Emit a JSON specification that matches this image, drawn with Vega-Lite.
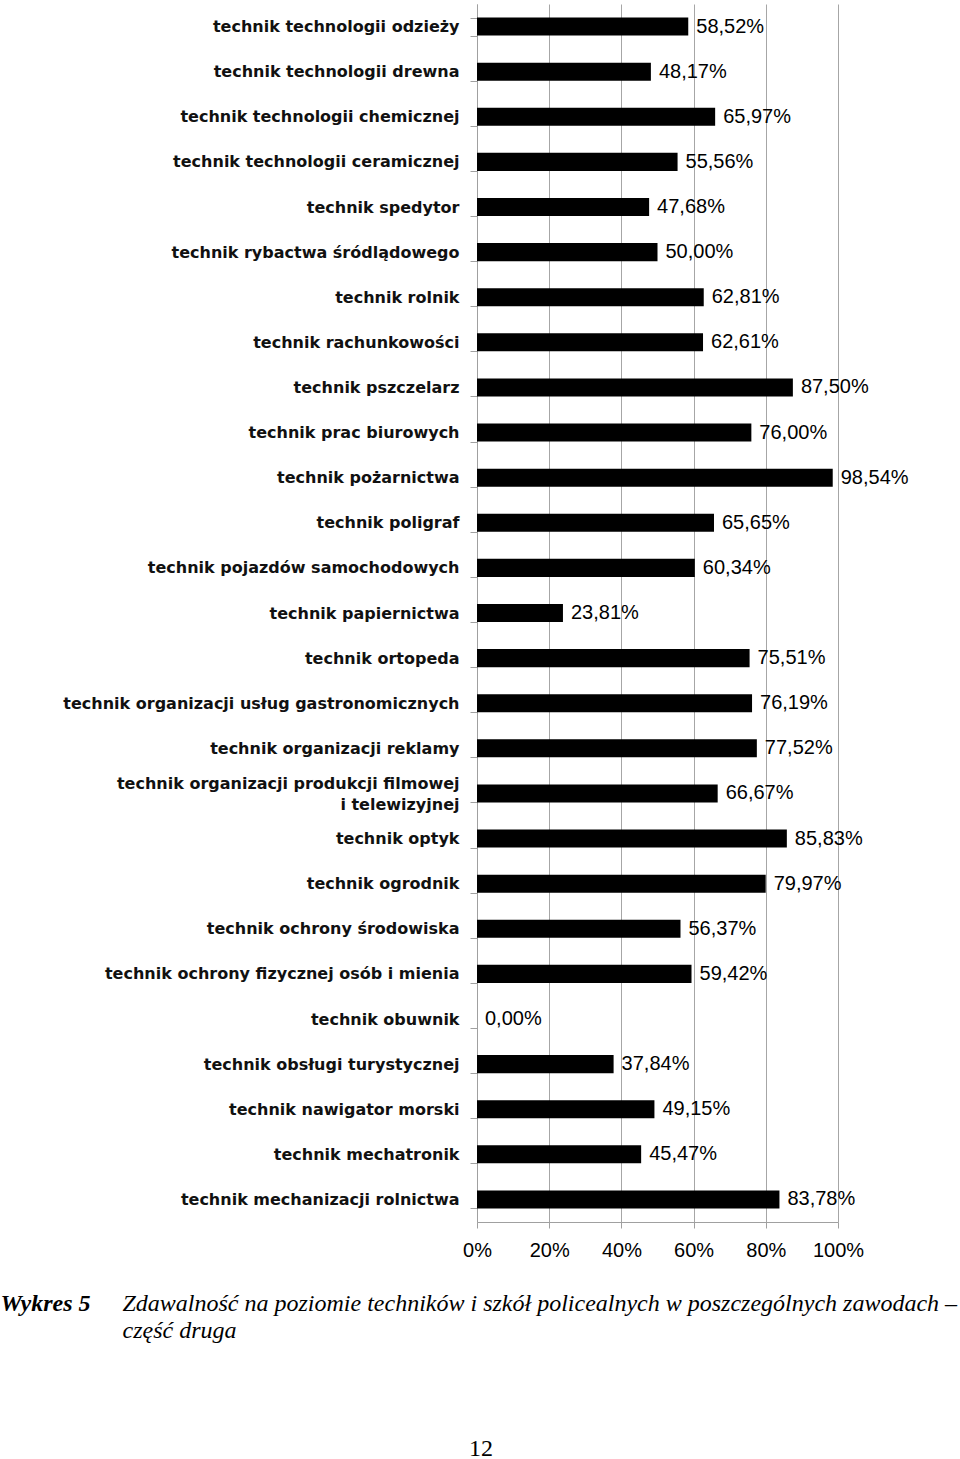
{
  "$schema": "https://vega.github.io/schema/vega-lite/v6.json",
  "autosize": {"type": "none"},
  "padding": {"left": 477, "top": 4, "right": 122, "bottom": 237},
  "width": 361,
  "height": 1218,
  "background": "white",
  "title": {"text": "12", "orient": "top", "anchor": "start", "frame": "group", "offset": 0, "dx": -8, "dy": 1484, "baseline": "alphabetic", "font": "Liberation Serif", "fontSize": 24, "fontWeight": "normal", "color": "black"},
  "data": {"values": [
    {"zawod": "technik technologii odzieży", "v": 58.52},
    {"zawod": "technik technologii drewna", "v": 48.17},
    {"zawod": "technik technologii chemicznej", "v": 65.97},
    {"zawod": "technik technologii ceramicznej", "v": 55.56},
    {"zawod": "technik spedytor", "v": 47.68},
    {"zawod": "technik rybactwa śródlądowego", "v": 50.00},
    {"zawod": "technik rolnik", "v": 62.81},
    {"zawod": "technik rachunkowości", "v": 62.61},
    {"zawod": "technik pszczelarz", "v": 87.50},
    {"zawod": "technik prac biurowych", "v": 76.00},
    {"zawod": "technik pożarnictwa", "v": 98.54},
    {"zawod": "technik poligraf", "v": 65.65},
    {"zawod": "technik pojazdów samochodowych", "v": 60.34},
    {"zawod": "technik papiernictwa", "v": 23.81},
    {"zawod": "technik ortopeda", "v": 75.51},
    {"zawod": "technik organizacji usług gastronomicznych", "v": 76.19},
    {"zawod": "technik organizacji reklamy", "v": 77.52},
    {"zawod": "technik organizacji produkcji filmowej|i telewizyjnej", "v": 66.67},
    {"zawod": "technik optyk", "v": 85.83},
    {"zawod": "technik ogrodnik", "v": 79.97},
    {"zawod": "technik ochrony środowiska", "v": 56.37},
    {"zawod": "technik ochrony fizycznej osób i mienia", "v": 59.42},
    {"zawod": "technik obuwnik", "v": 0.00},
    {"zawod": "technik obsługi turystycznej", "v": 37.84},
    {"zawod": "technik nawigator morski", "v": 49.15},
    {"zawod": "technik mechatronik", "v": 45.47},
    {"zawod": "technik mechanizacji rolnictwa", "v": 83.78}
  ]},
  "transform": [
    {"calculate": "replace(format(datum.v, '.2f'), '.', ',') + '%'", "as": "etykieta"}
  ],
  "encoding": {
    "y": {
      "field": "zawod", "type": "nominal", "sort": null,
      "scale": {"paddingInner": 0.6, "paddingOuter": 0.3},
      "axis": {
        "title": "Wykres 5",
        "titleAngle": 0, "titleX": -477, "titleY": 1306, "titleAlign": "left", "titleBaseline": "alphabetic",
        "titleFont": "Liberation Serif", "titleFontSize": 24, "titleFontStyle": "italic", "titleFontWeight": "bold", "titleColor": "black",
        "labelExpr": "split(datum.label, '|')",
        "labelFont": "DejaVu Sans", "labelFontWeight": "bold", "labelFontSize": 16, "labelColor": "#111111",
        "labelPadding": 11, "labelLineHeight": 21, "labelLimit": 500,
        "labelOffset": {"condition": {"test": "length(datum.label) > 45", "value": -10}, "value": 0},
        "tickBand": "extent", "tickSize": 7, "tickColor": "#a0a0a0",
        "domainColor": "#a0a0a0", "grid": false
      }
    }
  },
  "layer": [
    {
      "mark": {"type": "bar", "color": "black"},
      "encoding": {
        "x": {
          "field": "v", "type": "quantitative",
          "scale": {"domain": [0, 100], "nice": false},
          "axis": {
            "values": [0, 20, 40, 60, 80, 100],
            "labelExpr": "datum.value + '%'",
            "labelFlush": false,
            "labelFont": "Liberation Sans", "labelFontSize": 20, "labelColor": "black", "labelPadding": 12,
            "tickSize": 6, "tickColor": "#a0a0a0", "domainColor": "#a0a0a0",
            "grid": true, "gridColor": "#a6a6a6",
            "title": ["Zdawalność na poziomie techników i szkół policealnych w poszczególnych zawodach –", "część druga"],
            "titleX": -355, "titleY": 88, "titleAlign": "left", "titleAnchor": null, "titleBaseline": "alphabetic",
            "titleFont": "Liberation Serif", "titleFontSize": 24, "titleFontStyle": "italic", "titleFontWeight": "normal",
            "titleColor": "black", "titleLineHeight": 27, "titleLimit": 1000
          }
        }
      }
    },
    {
      "mark": {"type": "text", "align": "left", "baseline": "middle", "dx": 8, "font": "Liberation Sans", "fontSize": 20, "color": "black"},
      "encoding": {
        "x": {"field": "v", "type": "quantitative"},
        "text": {"field": "etykieta"}
      }
    }
  ],
  "config": {"view": {"stroke": null}}
}
